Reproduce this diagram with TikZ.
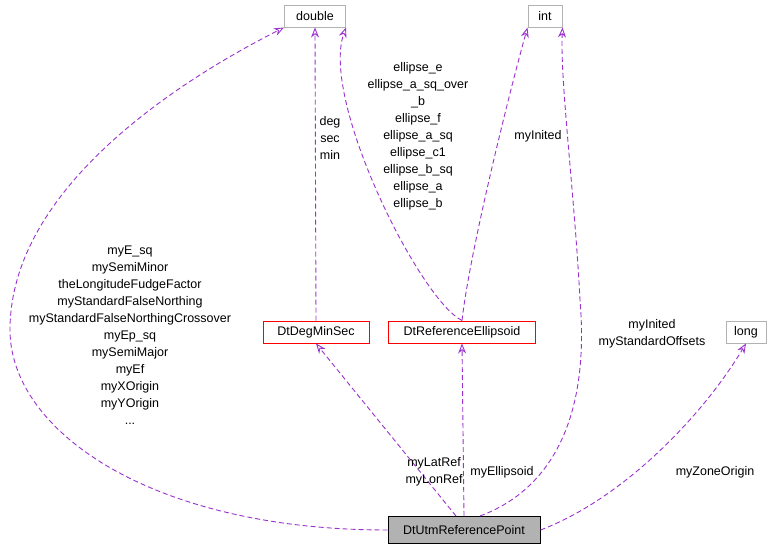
\documentclass[tikz,border=0pt]{standalone}
\usepackage{fontspec}
\setmainfont{Liberation Sans}
\usetikzlibrary{arrows.meta,positioning}
\definecolor{edgepurple}{HTML}{9A32CD}
\tikzset{
  every node/.style={font=\fontsize{12.5}{17}\selectfont},
  cls/.style={draw=red, line width=1pt, fill=white, minimum height=22pt, inner xsep=5pt},
  ext/.style={draw=black!30, line width=1pt, fill=white, minimum height=22pt, inner xsep=6pt},
  uses/.style={draw=edgepurple, line width=0.9pt, dash pattern=on 5pt off 3pt, -{Stealth[open,length=10pt,width=8pt]}},
  lbl/.style={align=center}
}
\begin{document}
\begin{tikzpicture}[x=1pt,y=-1pt]
\useasboundingbox (0,0) rectangle (772,549);
\node[ext, minimum width=61pt] (double) at (315,16) {double};
\node[ext, minimum width=34pt] (int) at (545,16) {int};
\node[cls, minimum width=106pt] (dms) at (316,332) {DtDegMinSec};
\node[cls, minimum width=147pt] (ell) at (462,332) {DtReferenceEllipsoid};
\node[ext, minimum width=40pt] (long) at (746,332) {long};
\node[draw=black, line width=1pt, fill=black!30, minimum height=27pt, minimum width=152pt] (utm) at (464,530) {DtUtmReferencePoint};

% relations
\draw[uses] (utm.west) .. controls (150,530) and (10,430) .. (10,330) .. controls (10,180) and (200,70) .. (double.south west);
\draw[uses] ([xshift=-8pt]utm.north) -- (dms.south);
\draw[uses] (utm.north) -- (ell.south);
\draw[uses] ([xshift=16pt]utm.north) .. controls (550,490) and (590,420) .. (580,300) .. controls (575,200) and (560,80) .. (int.south east);
\draw[uses] (utm.east) .. controls (620,500) and (700,420) .. (long.south);
\draw[uses] (dms.north) -- (double.south);
\draw[uses] (ell.north) .. controls (420,300) and (320,100) .. (double.south east);
\draw[uses] (ell.north) .. controls (470,250) and (510,90) .. (int.south west);

\node[lbl] at (130,335) {myE\_sq\\mySemiMinor\\theLongitudeFudgeFactor\\myStandardFalseNorthing\\myStandardFalseNorthingCrossover\\myEp\_sq\\mySemiMajor\\myEf\\myXOrigin\\myYOrigin\\...};
\node[lbl] at (330,138) {deg\\sec\\min};
\node[lbl] at (418,136) {ellipse\_e\\ellipse\_a\_sq\_over\\\_b\\ellipse\_f\\ellipse\_a\_sq\\ellipse\_c1\\ellipse\_b\_sq\\ellipse\_a\\ellipse\_b};
\node[lbl] at (538,136) {myInited};
\node[lbl] at (652,334) {myInited\\myStandardOffsets};
\node[lbl] at (434,472) {myLatRef\\myLonRef};
\node[lbl] at (502,472) {myEllipsoid};
\node[lbl] at (715,472) {myZoneOrigin};
\end{tikzpicture}
\end{document}
